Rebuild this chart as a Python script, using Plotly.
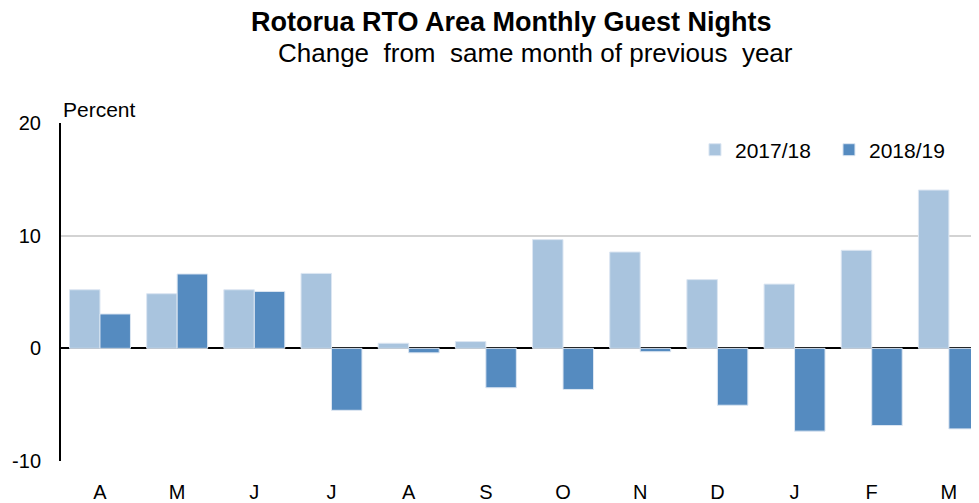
import plotly.graph_objects as go

months = ["A", "M", "J", "J", "A", "S", "O", "N", "D", "J", "F", "M"]
series_names = ["2017/18", "2018/19"]
values_2017_18 = [5.2, 4.85, 5.2, 6.65, 0.45, 0.6, 9.65, 8.55, 6.1, 5.7, 8.7, 14.05]
values_2018_19 = [3.05, 6.6, 5.05, -5.5, -0.4, -3.5, -3.65, -0.3, -5.05, -7.35, -6.85, -7.15]
y_ticks = [-10, 0, 10, 20]
y_tick_labels = ["-10", "0", "10", "20"]

x_idx = list(range(len(months)))

fig = go.Figure()
fig.add_trace(go.Bar(
    x=x_idx, y=values_2017_18, name=series_names[0],
    marker=dict(color="#A9C4DE", line=dict(color="#DCE6F2", width=1)),
))
fig.add_trace(go.Bar(
    x=x_idx, y=values_2018_19, name=series_names[1],
    marker=dict(color="#558BC0", line=dict(color="#DCE6F2", width=1)),
))

font_family = "Liberation Sans, Arial, sans-serif"

fig.update_layout(
    width=971, height=495,
    margin=dict(l=53, r=0, t=115, b=42),
    paper_bgcolor="white", plot_bgcolor="white",
    barmode="group", bargap=0.21, bargroupgap=0,
    font=dict(family=font_family, size=20, color="black"),
    showlegend=True,
    legend=dict(
        orientation="h", x=0.6906, y=0.92, xanchor="left", yanchor="middle",
        font=dict(size=21), bgcolor="rgba(0,0,0,0)",
        entrywidth=89, entrywidthmode="pixels", traceorder="normal",
    ),
    xaxis=dict(
        tickmode="array", tickvals=x_idx, ticktext=months,
        range=[-0.505, 11.39], showgrid=False, zeroline=False,
        showline=False, ticks="", ticklabelstandoff=17, automargin=False,
        tickfont=dict(size=20), fixedrange=True,
    ),
    yaxis=dict(
        range=[-10, 20], tickmode="array", tickvals=y_ticks, ticktext=y_tick_labels,
        showgrid=True, gridcolor="#D3D3D3", gridwidth=2,
        zeroline=True, zerolinecolor="black", zerolinewidth=2,
        showline=True, linecolor="black", linewidth=2, automargin=False,
        ticks="", ticklabelstandoff=14, tickfont=dict(size=20),
    ),
    annotations=[
        dict(text="<b>Rotorua RTO Area Monthly Guest Nights</b>",
             xref="paper", yref="paper", x=0.491, y=1.299,
             xanchor="center", yanchor="middle", showarrow=False,
             font=dict(family=font_family, size=27)),
        dict(text="Change  from  same month of previous  year",
             xref="paper", yref="paper", x=0.5174, y=1.207,
             xanchor="center", yanchor="middle", showarrow=False,
             font=dict(family=font_family, size=26)),
        dict(text="Percent", xref="paper", yref="paper", x=0.0, y=1.0385,
             xanchor="left", yanchor="middle", showarrow=False,
             font=dict(size=21)),
    ],
)

fig.write_html("out.html")
